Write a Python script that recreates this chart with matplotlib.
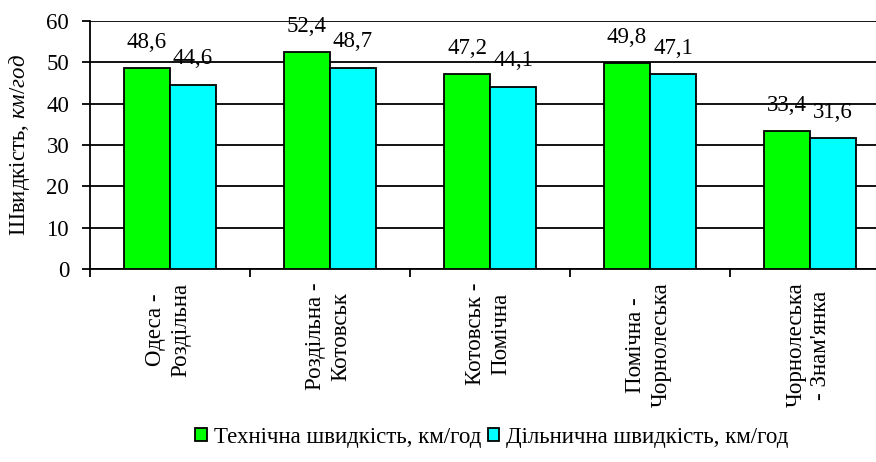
import matplotlib
matplotlib.use("Agg")
import matplotlib.pyplot as plt
import numpy as np

plt.rcParams['font.family'] = ['Liberation Serif', 'DejaVu Serif']
plt.rcParams['mathtext.fontset'] = 'custom'
plt.rcParams['mathtext.rm'] = 'Liberation Serif'
plt.rcParams['mathtext.it'] = 'Liberation Serif:italic'

categories = ["Одеса -\nРоздільна", "Роздільна -\nКотовськ", "Котовськ -\nПомічна",
              "Помічна -\nЧорнолеська", "Чорнолеська\n- Знам'янка"]
technical = [48.6, 52.4, 47.2, 49.8, 33.4]
sectional = [44.6, 48.7, 44.1, 47.1, 31.6]
value_labels_tech = ["48,6", "52,4", "47,2", "49,8", "33,4"]
value_labels_sect = ["44,6", "48,7", "44,1", "47,1", "31,6"]
series_names = ["Технічна швидкість, км/год", "Дільнична швидкість, км/год"]

FS = 16.5
W, H = 876, 462
fig = plt.figure(figsize=(W / 100, H / 100), dpi=100)
ax = fig.add_axes([90 / W, 1 - 269 / H, 800 / W, 248 / H])

x = np.arange(len(categories))
bw = 0.2875
b1 = ax.bar(x - bw / 2, technical, bw, color='#00ff00', edgecolor='black', linewidth=1.3,
            label=series_names[0], zorder=3)
b2 = ax.bar(x + bw / 2, sectional, bw, color='#00ffff', edgecolor='black', linewidth=1.3,
            label=series_names[1], zorder=3)

for xi, v, t in zip(x - bw / 2, technical, value_labels_tech):
    ax.annotate(t, (xi, v), xytext=(0, 11), textcoords='offset points',
                ha='center', va='bottom', fontsize=FS)
for xi, v, t in zip(x + bw / 2, sectional, value_labels_sect):
    ax.annotate(t, (xi, v), xytext=(0, 11), textcoords='offset points',
                ha='center', va='bottom', fontsize=FS)

ax.set_xlim(-0.5, len(categories) - 0.5)
ax.set_ylim(0, 60)
ax.set_yticks(np.arange(0, 61, 10))
ax.yaxis.grid(True, color='black', linewidth=1.3, zorder=0)
ax.set_axisbelow(True)
ax.tick_params(axis='y', labelsize=FS, length=6, width=1.3, direction='out', pad=9)

ax.set_xticks(np.arange(-0.5, len(categories), 1.0))
ax.set_xticklabels([])
ax.tick_params(axis='x', length=6, width=1.3, direction='out')
for xi, lab in zip(x, categories):
    ax.text(xi - 0.01, -0.055, lab, transform=ax.get_xaxis_transform(), rotation=90,
            ha='center', va='top', multialignment='center', fontsize=FS, linespacing=1.25)

for s in ['top', 'right']:
    ax.spines[s].set_visible(False)
ax.spines['left'].set_linewidth(1.3)
ax.spines['bottom'].set_linewidth(1.3)

ax.set_ylabel("Швидкість, $\\mathit{км/год}$", fontsize=FS, labelpad=10)

leg = fig.legend(handles=[b1, b2], loc='center', bbox_to_anchor=(492 / W, 1 - 437 / H),
                 ncol=2, frameon=False, fontsize=FS, handlelength=0.5, handleheight=0.5,
                 handletextpad=0.3, columnspacing=0.3)

fig.savefig("out.png", dpi=100)
